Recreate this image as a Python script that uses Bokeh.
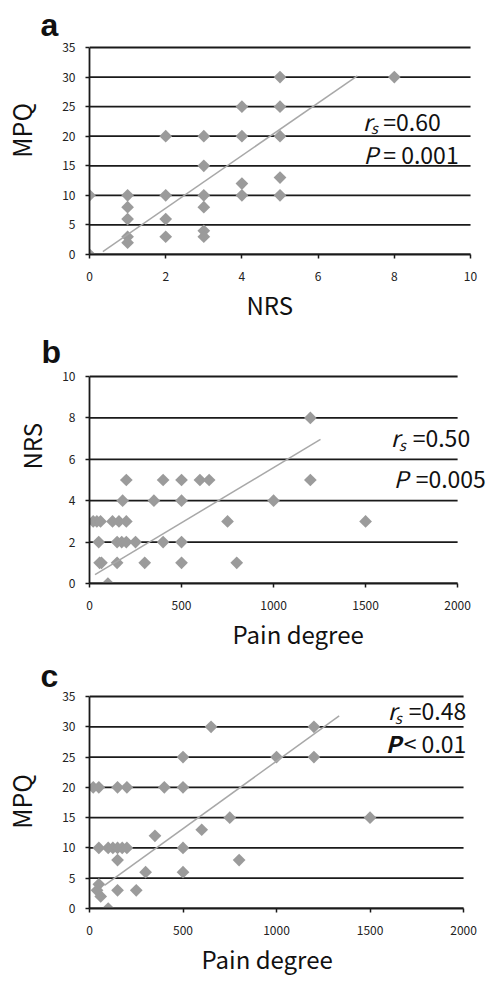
import numpy as np
from bokeh.plotting import figure
from bokeh.layouts import column
from bokeh.models import Range1d, FixedTicker, Label, Title
from bokeh.embed import file_html
from bokeh.resources import INLINE

# ---------------- data ----------------
# panel a: NRS vs MPQ
a_nrs = [0, 0, 1, 1, 1, 1, 1, 2, 2, 2, 2, 3, 3, 3, 3, 3, 3, 4, 4, 4, 4, 5, 5, 5, 5, 5, 8]
a_mpq = [0, 10, 10, 8, 6, 3, 2, 20, 10, 6, 3, 20, 15, 10, 8, 4, 3, 25, 20, 12, 10, 30, 25, 20, 13, 10, 30]
a_fit_x = [0.35, 7.03]
a_fit_y = [0.5, 30.2]
a_x_ticks = [0, 2, 4, 6, 8, 10]
a_y_ticks = [0, 5, 10, 15, 20, 25, 30, 35]

# panel b: Pain degree vs NRS
b_pain = [1200,
          200, 400, 500, 600, 650, 1200,
          180, 350, 500, 1000,
          20, 40, 60, 125, 160, 200, 750, 1500,
          50, 150, 175, 200, 250, 400, 500,
          55, 65, 150, 300, 500, 800,
          100]
b_nrs = [8,
         5, 5, 5, 5, 5, 5,
         4, 4, 4, 4,
         3, 3, 3, 3, 3, 3, 3, 3,
         2, 2, 2, 2, 2, 2, 2,
         1, 1, 1, 1, 1, 1,
         0]
b_fit_x = [30, 1255]
b_fit_y = [0.43, 6.96]
b_x_ticks = [0, 500, 1000, 1500, 2000]
b_y_ticks = [0, 2, 4, 6, 8, 10]

# panel c: Pain degree vs MPQ
c_pain = [650, 1200,
          500, 1000, 1200,
          20, 50, 150, 200, 400, 500,
          750, 1500,
          600,
          350,
          50, 100, 125, 150, 175, 200, 500,
          150, 800,
          300, 500,
          50,
          40, 150, 250,
          60,
          100]
c_mpq = [30, 30,
         25, 25, 25,
         20, 20, 20, 20, 20, 20,
         15, 15,
         13,
         12,
         10, 10, 10, 10, 10, 10, 10,
         8, 8,
         6, 6,
         4,
         3, 3, 3,
         2,
         0]
c_fit_x = [80, 1335]
c_fit_y = [3.8, 31.8]
c_x_ticks = [0, 500, 1000, 1500, 2000]
c_y_ticks = [0, 5, 10, 15, 20, 25, 30, 35]

# ---------------- style ----------------
FONT = "Noto Sans CJK JP"
LETTER_FONT = "Liberation Sans"
MARK = "#9b9b9b"
FIT = "#a8a8a8"
INK = "#1a1a1a"
NBSP = "\u00a0"


def make_panel(letter, letter_offset, letter_standoff, x, y, fx, fy, xticks, yticks,
               xr, yr, height, borders):
    L, R, T, B = borders
    p = figure(width=487, height=height, output_backend="svg", toolbar_location=None,
               x_range=Range1d(*xr), y_range=Range1d(*yr),
               min_border_left=L, min_border_right=R, min_border_top=T, min_border_bottom=B)
    p.outline_line_color = None
    p.background_fill_color = "white"
    p.border_fill_color = "white"
    p.xgrid.visible = False
    p.ygrid.visible = False

    # panel letter
    p.title.text = letter
    p.title.text_font = LETTER_FONT
    p.title.text_font_size = "32px"
    p.title.text_font_style = "bold"
    p.title.text_color = "#111111"
    p.title.align = "left"
    p.title.offset = letter_offset
    p.title.standoff = letter_standoff

    # horizontal reference lines at the y ticks, spanning the x tick range
    n = len(yticks)
    p.segment(x0=[xticks[0]] * n, y0=yticks, x1=[xticks[-1]] * n, y1=yticks,
              line_color=INK, line_width=1.8)

    for ax, ticks in ((p.xaxis[0], xticks), (p.yaxis[0], yticks)):
        ax.ticker = FixedTicker(ticks=ticks)
        ax.bounds = (ticks[0], ticks[-1])
        ax.axis_line_color = INK
        ax.axis_line_width = 1.8
        ax.major_tick_line_color = INK
        ax.major_tick_line_width = 1.5
        ax.major_tick_out = 4
        ax.major_tick_in = 0
        ax.minor_tick_line_color = None
        ax.major_label_text_font = FONT
        ax.major_label_text_font_size = "12px"
        ax.major_label_text_color = "#222222"
        ax.axis_label_text_font = FONT
        ax.axis_label_text_font_size = "25px"
        ax.axis_label_text_font_style = "normal"
        ax.axis_label_text_color = "#111111"
    p.xaxis.major_label_standoff = 13
    p.yaxis.major_label_standoff = 10

    p.scatter(x, y, marker="square", size=9, angle=np.pi / 4,
              fill_color=MARK, line_color=None)
    p.line(fx, fy, line_color=FIT, line_width=1.5)
    return p


def side_title(p, text, side, offset, standoff, valign):
    p.add_layout(Title(text=text, align="left", offset=offset, standoff=standoff,
                       vertical_align=valign, text_font=FONT, text_font_size="24px",
                       text_font_style="normal", text_color="#111111"), side)


def add_text(p, x, y, text, size="23px", style="normal"):
    p.add_layout(Label(x=x, y=y, text=text, text_font=FONT, text_font_size=size,
                       text_font_style=style, text_color="#111111",
                       text_baseline="alphabetic", text_align="left"))


# ---- panel a ----
pa = make_panel("a", -49, 6, a_nrs, a_mpq, a_fit_x, a_fit_y, a_x_ticks, a_y_ticks,
                (0, 10.419), (0, 35.34), 326, (88, 1, 45, 72))
pa.yaxis.axis_label = NBSP * 7 + "MPQ"
pa.yaxis.axis_label_standoff = 20
side_title(pa, "NRS", "below", 157, 6, "top")
add_text(pa, 7.17, 22.62, "r", style="italic")
add_text(pa, 7.38, 21.51, "s", size="15px", style="italic")
add_text(pa, 7.71, 22.62, "=0.60")
add_text(pa, 7.19, 16.92, "P", style="italic")
add_text(pa, 7.71, 16.92, "= 0.001")

# ---- panel b ----
pb = make_panel("b", -48, 10, b_pain, b_nrs, b_fit_x, b_fit_y, b_x_ticks, b_y_ticks,
                (0, 2157), (0, 10.097), 329, (88, 1, 48, 72))
side_title(pb, "NRS", "left", 114, 22, "bottom")
side_title(pb, "Pain degree", "below", 143, 6, "top")
add_text(pb, 1637, 7.055, "r", style="italic")
add_text(pb, 1680, 6.72, "s", size="15px", style="italic")
add_text(pb, 1756, 7.055, "=0.50")
add_text(pb, 1653, 5.075, "P", style="italic")
add_text(pb, 1772, 5.075, "=0.005")

# ---- panel c ----
pc = make_panel("c", -49, 1, c_pain, c_mpq, c_fit_x, c_fit_y, c_x_ticks, c_y_ticks,
                (0, 2122.7), (0, 35.33), 326, (88, 1, 39, 73))
pc.yaxis.axis_label = "MPQ"
pc.yaxis.axis_label_standoff = 20
side_title(pc, "Pain degree", "below", 112, 7, "top")
add_text(pc, 1595, 32.69, "r", style="italic")
add_text(pc, 1632, 31.49, "s", size="15px", style="italic")
add_text(pc, 1707, 32.69, "=0.48")
add_text(pc, 1584, 27.39, "P", style="bold italic")
add_text(pc, 1680, 27.39, "< 0.01")

layout = column(pa, pb, pc, spacing=0)
open("out.html", "w").write(file_html(layout, INLINE))
